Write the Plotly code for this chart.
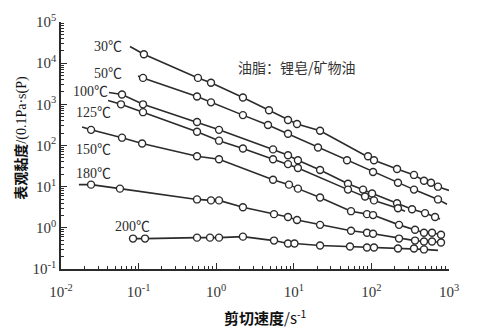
import plotly.graph_objects as go

# Apparent viscosity of lithium-soap / mineral-oil grease vs shear rate
temps = ["30℃", "50℃", "100℃", "125℃", "150℃", "180℃", "200℃"]

# measured points (shear rate in 1/s, apparent viscosity in P)
rate_30 = [0.117, 0.582, 0.857, 2.21, 4.79, 8.42, 11.0, 21.8, 90.4, 108, 214, 354, 476, 586, 721]
visc_30 = [16400, 4390, 3340, 1470, 720, 416, 334, 228, 54.7, 43.9, 26.8, 19.3, 13.9, 12.5, 10.0]

rate_50 = [0.114, 0.566, 0.857, 2.21, 4.65, 8.42, 20.5, 48.5, 105, 220, 354, 721]
visc_50 = [4390, 1550, 1117, 547, 316, 193, 89.6, 43.9, 22.8, 12.5, 8.48, 4.90]

rate_100 = [0.0611, 0.114, 0.566, 1.087, 5.40, 8.42, 11.3, 21.8, 49.9, 78.0, 102, 214, 334, 491, 661]
visc_100 = [1730, 1000, 373, 240, 80.4, 57.8, 43.9, 25.4, 11.8, 8.48, 6.81, 3.94, 2.83, 2.28, 1.83]

rate_125 = [0.0593, 0.114, 0.566, 1.087, 2.21, 5.40, 8.42, 11.3, 49.9, 82.8, 108, 220]
visc_125 = [1000, 645, 215, 131, 84.8, 46.4, 35.3, 28.3, 8.48, 5.78, 4.64, 2.99]

rate_150 = [0.0244, 0.0611, 0.111, 0.566, 1.087, 5.40, 8.67, 11.3, 21.8, 54.6, 87.7, 105, 227, 365, 476, 604, 789]
visc_150 = [240, 155, 112, 54.7, 46.4, 14.7, 11.2, 8.96, 5.47, 2.54, 2.15, 2.04, 1.18, 0.896, 0.760, 0.760, 0.681]

rate_180 = [0.0244, 0.0575, 0.566, 0.857, 1.087, 2.21, 5.56, 8.42, 11.0, 21.8, 54.6, 87.7, 105, 227, 365, 476, 604, 789]
visc_180 = [11.2, 8.96, 4.90, 4.64, 4.64, 3.16, 2.15, 1.83, 1.55, 1.18, 0.848, 0.760, 0.720, 0.548, 0.490, 0.464, 0.464, 0.439]

rate_200 = [0.0847, 0.121, 0.566, 0.832, 1.087, 2.21, 5.56, 8.42, 10.2, 21.8, 53.0, 87.7, 108, 220, 354, 476]
visc_200 = [0.548, 0.548, 0.578, 0.578, 0.578, 0.611, 0.490, 0.416, 0.416, 0.373, 0.353, 0.334, 0.334, 0.316, 0.316, 0.299]

# extrapolated ends of the fitted curves (drawn without markers)
lead = [(0.0774, 25400), (0.0983, 4900), (0.0415, 1930), (0.0404, 1245), (0.0187, 283), (0.017, 11.2), None]
tail = [(1000, 8.1), (942, 3.73), (766, 1.64), (271, 2.54), None, None, (721, 0.283)]

rates = [rate_30, rate_50, rate_100, rate_125, rate_150, rate_180, rate_200]
viscs = [visc_30, visc_50, visc_100, visc_125, visc_150, visc_180, visc_200]

x_ticks = [0.01, 0.1, 1, 10, 100, 1000]
x_ticktext = ["10<sup>-2</sup>", "10<sup>-1</sup>", "10<sup>0</sup>", "10<sup>1</sup>", "10<sup>2</sup>", "10<sup>3</sup>"]
y_ticks = [0.1, 1, 10, 100, 1000, 10000, 100000]
y_ticktext = ["10<sup>-1</sup>", "10<sup>0</sup>", "10<sup>1</sup>", "10<sup>2</sup>", "10<sup>3</sup>", "10<sup>4</sup>", "10<sup>5</sup>"]

INK = "#2b2b2b"
W, H = 477, 332
ML, MR, MT, MB = 61, 28, 17, 63

fig = go.Figure()

for i, name in enumerate(temps):
    xs, ys = list(rates[i]), list(viscs[i])
    if lead[i]:
        xs = [lead[i][0]] + xs
        ys = [lead[i][1]] + ys
    if tail[i]:
        xs = xs + [tail[i][0]]
        ys = ys + [tail[i][1]]
    fig.add_trace(go.Scatter(x=xs, y=ys, mode="lines", line=dict(color=INK, width=1.6),
                             showlegend=False, hoverinfo="skip"))

for i, name in enumerate(temps):
    fig.add_trace(go.Scatter(x=rates[i], y=viscs[i], mode="markers", name=name,
                             marker=dict(symbol="circle", size=7, color="white",
                                         line=dict(color=INK, width=1.4)),
                             showlegend=False, cliponaxis=False))

minor_x = [m * 10 ** e for e in range(-2, 3) for m in range(2, 10)]
minor_y = [m * 10 ** e for e in range(-1, 5) for m in range(2, 10)]

tick_font = dict(family="Liberation Serif", size=15, color="#333")
fig.update_xaxes(type="log", range=[-2, 3], tickmode="array", tickvals=x_ticks, ticktext=x_ticktext,
                 ticks="inside", ticklen=6, tickwidth=1.3, tickcolor=INK, ticklabelstandoff=8,
                 minor=dict(tickmode="array", tickvals=minor_x, ticks="inside", ticklen=3,
                            tickwidth=1.1, tickcolor=INK, showgrid=False),
                 showline=True, linecolor=INK, linewidth=1.6, showgrid=False, zeroline=False,
                 tickfont=tick_font)
fig.update_yaxes(type="log", range=[-1, 5], tickmode="array", tickvals=y_ticks, ticktext=y_ticktext,
                 ticks="inside", ticklen=6, tickwidth=1.3, tickcolor=INK,
                 minor=dict(tickmode="array", tickvals=minor_y, ticks="inside", ticklen=3,
                            tickwidth=1.1, tickcolor=INK, showgrid=False),
                 showline=True, linecolor=INK, linewidth=1.6, showgrid=False, zeroline=False,
                 tickfont=tick_font)


def px(x):
    return (x - ML) / (W - ML - MR)


def py(y):
    return (H - MB - y) / (H - MT - MB)


serif = dict(family="Liberation Serif, Noto Sans CJK SC", size=14, color=INK)
label_pos = [(124, 42), (124, 70), (110, 88), (113, 109), (113, 147), (113, 172), (152, 226)]
annotations = []
for name, (lx, ly) in zip(temps, label_pos):
    annotations.append(dict(text=name, x=px(lx), y=py(ly), xref="paper", yref="paper",
                            xanchor="right", yanchor="middle", showarrow=False, font=serif))

annotations.append(dict(text="油脂：锂皂/矿物油", x=px(236), y=py(63), xref="paper", yref="paper",
                        xanchor="left", yanchor="middle", showarrow=False,
                        font=dict(family="Noto Sans CJK SC", size=14, color="#333")))
annotations.append(dict(text="<b>剪切速度</b>/s<sup>-1</sup>", x=px(265), y=py(318), xref="paper", yref="paper",
                        xanchor="center", yanchor="middle", showarrow=False,
                        font=dict(family="Noto Sans CJK SC", size=15, color="#111")))
annotations.append(dict(text="<b>表观黏度</b><span style='font-family:Liberation Serif'>/(0.1Pa·s(P)</span>",
                        x=px(20), y=py(135), xref="paper", yref="paper",
                        xanchor="center", yanchor="middle", showarrow=False, textangle=-90,
                        font=dict(family="Noto Sans CJK SC", size=14, color="#111")))

fig.update_layout(width=W, height=H, margin=dict(l=ML, r=MR, t=MT, b=MB),
                  paper_bgcolor="white", plot_bgcolor="white", annotations=annotations)

fig.write_html("out.html")
